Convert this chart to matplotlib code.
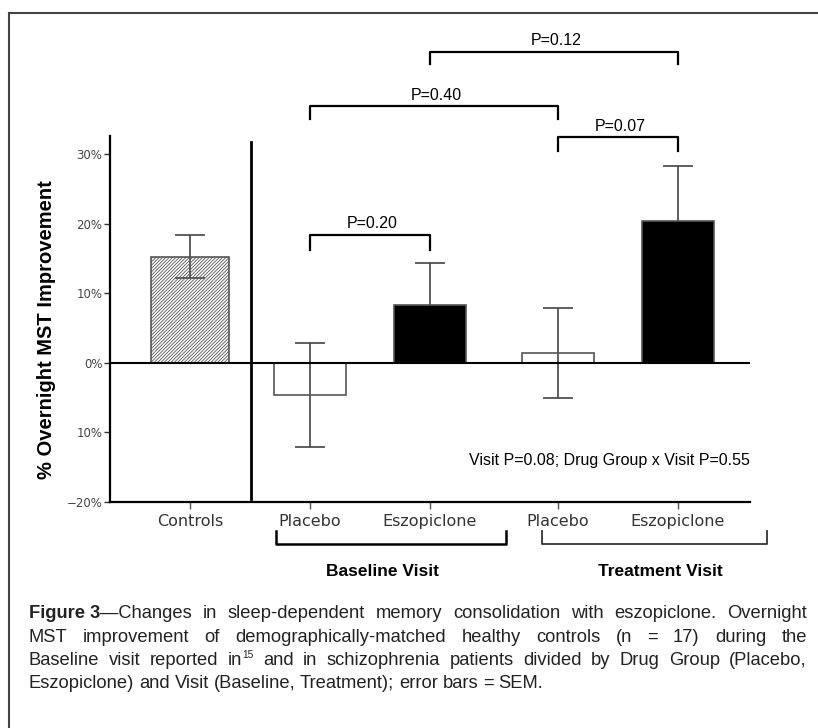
import numpy as np
import matplotlib
matplotlib.use("Agg")
import matplotlib.pyplot as plt
from matplotlib.lines import Line2D
from matplotlib import font_manager
import matplotlib.transforms as mtransforms

# data
groups = ["Controls", "Placebo", "Eszopiclone", "Placebo", "Eszopiclone"]
means = [15.25, -4.7, 8.3, 1.35, 20.4]
sem = [3.1, 7.5, 6.0, 6.5, 7.9]
visit_labels = ["Baseline Visit", "Treatment Visit"]
pvals = ["P=0.20", "P=0.40", "P=0.12", "P=0.07"]
overall_note = "Visit P=0.08; Drug Group x Visit P=0.55"
ytick_vals = [-20, -10, 0, 10, 20, 30]
ytick_text = ["\u221220%", "10%", "0%", "10%", "20%", "30%"]

W, H = 818, 728
fig = plt.figure(figsize=(W / 100, H / 100), dpi=100)

def fx(px):
    return px / W

def fy(py):
    return 1 - py / H

# axes box placed by pixel
ax = fig.add_axes([fx(110), fy(501.7), fx(750) - fx(110), fy(136) - fy(501.7)])

# bar positions, treatment group shifted a bit right
x = np.arange(len(groups), dtype=float)
x[3:] += 0.067

faces = ["none", "none", "black", "none", "black"]
hatches = ["//////////", None, None, None, None]
widths = [0.655, 0.6, 0.6, 0.6, 0.6]

ax.errorbar(x, means, yerr=sem, fmt="none", ecolor="#444444", elinewidth=1.2,
            capsize=11, capthick=1.2, zorder=1)
plt.rcParams["hatch.color"] = "#555555"
plt.rcParams["hatch.linewidth"] = 0.6
bars = ax.bar(x, means, width=widths, color=faces, edgecolor="#555555",
              linewidth=1.2, zorder=2)
for b, h in zip(bars, hatches):
    if h:
        b.set_hatch(h)

ax.axhline(0, color="black", lw=1.5, zorder=3)
ax.axvline(0.506, ymin=0.007, ymax=0.984, color="black", lw=2, zorder=3)

ax.set_xlim(-0.6667, 4.6667)
ax.set_ylim(-20, 32.6)
ax.set_yticks(ytick_vals)
ax.set_yticklabels(ytick_text, fontsize=8.5, color="#444444", family="DejaVu Sans")
ax.set_xticks(x)
ax.set_xticklabels(groups, fontsize=11.5, color="#333333", family="DejaVu Sans")
ax.tick_params(axis="y", length=4, width=1, color="#333333", pad=1.5)
ax.tick_params(axis="x", length=5, width=1, color="#555555", pad=4)
for s in ["top", "right"]:
    ax.spines[s].set_visible(False)
ax.spines["left"].set_linewidth(1.6)
ax.spines["bottom"].set_linewidth(1.6)

arial = "Liberation Sans"

# significance brackets: (left bar, right bar, top y, leg drop)
brackets = [(1, 2, 18.4, 2.2), (1, 3, 36.9, 1.8), (2, 4, 44.75, 1.8), (3, 4, 32.4, 1.9)]
for (i, j, top, drop), p in zip(brackets, pvals):
    ax.plot([x[i], x[i], x[j], x[j]], [top - drop, top, top, top - drop],
            color="black", lw=1.6, clip_on=False, zorder=4)
    ax.text((x[i] + x[j]) / 2 + 0.02, top + 1.55, p, ha="center", va="center",
            fontsize=11.5, family=arial, clip_on=False)

ax.text(4.667, -14.1, overall_note, ha="right", va="center", fontsize=11.5, family=arial)

# visit group brackets under the axis
trans = mtransforms.blended_transform_factory(ax.transData, fig.transFigure)
vis = [((0.72, 2.63), 1.6, "black", 1.8), ((2.93, 4.81), 3.92, "#333333", 1.3)]
for ((a, b), mid, col, lw), lab in zip(vis, visit_labels):
    ax.add_artist(Line2D([a, a, b, b], [fy(531), fy(544), fy(544), fy(531)],
                         transform=trans, color=col, lw=lw, clip_on=False))
    ax.text(mid, fy(571), lab, transform=trans, ha="center", va="center",
            fontsize=12.5, fontweight="bold", family=arial, clip_on=False)

fig.text(fx(47), fy(330), "% Overnight MST Improvement", rotation=90,
         ha="center", va="center", fontsize=14.5, fontweight="bold", family=arial)

# outer frame (cropped on right and bottom)
fig.add_artist(Line2D([fx(8.5), fx(8.5)], [0, fy(13)], color="#444444", lw=1.5))
fig.add_artist(Line2D([fx(8.5), 1], [fy(13), fy(13)], color="#444444", lw=1.5))

# caption, justified word by word
names = {f.name for f in font_manager.fontManager.ttflist}
cap_font = "Liberation Sans Narrow" if "Liberation Sans Narrow" in names else arial

B = {"fontweight": "bold"}
N = {}
SUP = {"sup": True}
caption = [
    [[("Figure 3", B), ("\u2014Changes", N)]]
    + [[(w, N)] for w in "in sleep-dependent memory consolidation with eszopiclone. Overnight".split()],
    [[(w, N)] for w in "MST improvement of demographically-matched healthy controls (n = 17) during the".split()],
    [[(w, N)] for w in "Baseline visit reported".split()] + [[("in", N), ("15", SUP)]]
    + [[(w, N)] for w in "and in schizophrenia patients divided by Drug Group (Placebo,".split()],
    [[(w, N)] for w in "Eszopiclone) and Visit (Baseline, Treatment); error bars = SEM.".split()],
]
line_y = [611.7, 635, 658.3, 681.7]
x_left, x_right = 29, 807

renderer = fig.canvas.get_renderer()

def make_word(word, size):
    objs = []
    for txt, kw in word:
        if kw.get("sup"):
            t = fig.text(0, 0, txt, fontsize=size * 0.55, family=cap_font,
                         color="#222222", va="baseline")
            t._sup = True
        else:
            t = fig.text(0, 0, txt, fontsize=size, family=cap_font,
                         color="#222222", va="baseline", **kw)
            t._sup = False
        objs.append(t)
    widths_px = [o.get_window_extent(renderer).width for o in objs]
    return objs, widths_px

# pick a size so the tightest justified line still has normal spacing
probe = 10.0
natural = []
for words in caption[:-1]:
    built = [make_word(w, probe) for w in words]
    tot = sum(sum(wp) for _, wp in built) + (len(built) - 1) * probe * 100 / 72 * 0.24
    natural.append(tot)
    for objs, _ in built:
        for o in objs:
            o.remove()
cap_size = min(13.2, probe * (x_right - x_left) / max(natural))

for li, (words, ly) in enumerate(zip(caption, line_y)):
    built = [make_word(w, cap_size) for w in words]
    total = sum(sum(wp) for _, wp in built)
    if li < len(caption) - 1:
        gap = (x_right - x_left - total) / (len(built) - 1)
    else:
        gap = cap_size * 100 / 72 * 0.26
    cx = x_left
    base = ly + 6.5
    for objs, wp in built:
        for o, w in zip(objs, wp):
            yy = base - 7 if o._sup else base
            o.set_position((fx(cx), fy(yy)))
            cx += w
        cx += gap

fig.savefig("out.png", dpi=100)
